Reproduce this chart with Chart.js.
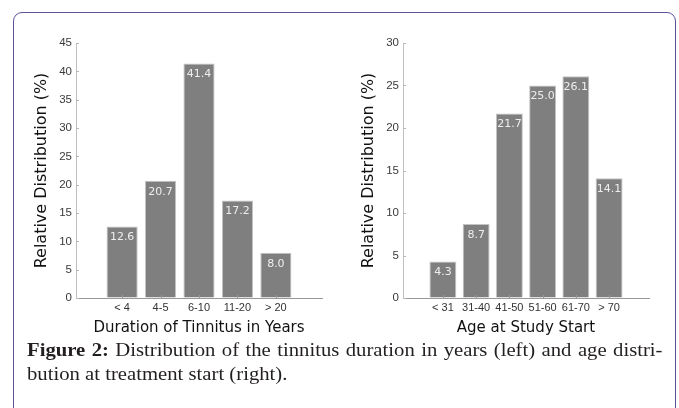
<!DOCTYPE html>
<html>
<head>
<meta charset="utf-8">
<script src="https://cdn.jsdelivr.net/npm/chart.js@4/dist/chart.umd.min.js"></script>
<style>
body{margin:0;background:#fff;width:679px;height:408px;overflow:hidden;position:relative;font-family:"DejaVu Sans",sans-serif}
#frame{position:absolute;left:13px;top:12px;width:661px;height:420px;border:1.5px solid #5a5599;border-radius:9px}
canvas{position:absolute}
#c1{left:18px;top:28px}
#c2{left:345px;top:28px}
.cap{position:absolute;left:27px;font:18px "Liberation Serif","Times New Roman",serif;color:#231f20;line-height:24px;white-space:nowrap;transform:scaleX(1.15);transform-origin:0 0}
</style>
</head>
<body>
<div id="frame"></div>
<canvas id="c1" width="318" height="312"></canvas>
<canvas id="c2" width="318" height="312"></canvas>
<div class="cap" id="line1" style="top:338px"><b>Figure 2:</b> Distribution of the tinnitus duration in years (left) and age distri-</div>
<div class="cap" id="line2" style="top:362px">bution at treatment start (right).</div>
<script>
const durationLabels = ["< 4", "4-5", "6-10", "11-20", "> 20"]
const durationValues = [12.6, 20.7, 41.4, 17.2, 8.0]
const durationTicks = [0, 5, 10, 15, 20, 25, 30, 35, 40, 45]

const ageLabels = ["< 31", "31-40", "41-50", "51-60", "61-70", "> 70"]
const ageValues = [4.3, 8.7, 21.7, 25.0, 26.1, 14.1]
const ageTicks = [0, 5, 10, 15, 20, 25, 30]

// numbers inside the bars, plus the short inward tick marks
const valueLabels = {
id:"valueLabels",
afterDatasetsDraw(chart){
const ctx = chart.ctx
const meta = chart.getDatasetMeta(0)
ctx.save()
ctx.font = "11px 'DejaVu Sans'"
ctx.fillStyle = "#eeeeee"
ctx.textAlign = "center"
ctx.textBaseline = "middle"
meta.data.forEach((bar,i)=>{
const v = chart.data.datasets[0].data[i].y
ctx.fillText(v.toFixed(1), bar.x, bar.y + 11)
})
const x = chart.scales.x, y = chart.scales.y
ctx.lineWidth = 1
ctx.strokeStyle = "#b8b8b8"
y.ticks.forEach(t=>{
const py = Math.round(y.getPixelForValue(t.value)) + 0.5
ctx.beginPath(); ctx.moveTo(y.right, py); ctx.lineTo(y.right + 3, py); ctx.stroke()
})
ctx.strokeStyle = "#999"
x.ticks.forEach(t=>{
const px = Math.round(x.getPixelForValue(t.value)) + 0.5
ctx.beginPath(); ctx.moveTo(px, x.top); ctx.lineTo(px, x.top - 3); ctx.stroke()
})
ctx.restore()
}
}

function makeChart(id, labels, values, ticks, xTitle){
const ctx = document.getElementById(id).getContext("2d")
return new Chart(ctx,{
type:"bar",
data:{
datasets:[{
data: values.map((v,i)=>({x:i, y:v})),
backgroundColor:"#7f7f7f",
borderColor:"#c4c4c4",
borderWidth:1,
categoryPercentage:0.81,
barPercentage:1
}]
},
options:{
responsive:false,
animation:false,
layout:{padding:{left:14.4, right:14, top:15, bottom:3}},
plugins:{legend:{display:false}, tooltip:{enabled:false}},
scales:{
x:{
type:"linear",
offset:false,
bounds:"data",
min:-1.2,
max:labels.length - 1 + 1.2,
afterBuildTicks:s=>{ s.ticks = labels.map((l,i)=>({value:i})) },
afterFit:s=>{ s.height = 39 },
grid:{display:true, offset:false, drawOnChartArea:false, tickLength:3, color:"rgba(0,0,0,0)"},
border:{display:true, color:"#999"},
ticks:{
autoSkip:false, maxRotation:0, padding:0.5,
color:"#333", font:{family:"Liberation Sans", size:11},
callback:v=>labels[v]
},
title:{display:true, text:xTitle, color:"#111", padding:0,
font:{family:"DejaVu Sans", size:15}}
},
y:{
min:0,
max:ticks[ticks.length-1],
afterBuildTicks:s=>{ s.ticks = ticks.map(t=>({value:t})) },
afterFit:s=>{ s.width = 43.6 },
grid:{display:true, drawOnChartArea:false, tickLength:3, color:"rgba(0,0,0,0)"},
border:{display:true, color:"#c0c0c0"},
ticks:{padding:1, color:"#3a3a3a", font:{family:"Liberation Sans", size:11.5}},
title:{display:true, text:"Relative Distribution (%)", color:"#111", padding:0,
font:{family:"DejaVu Sans", size:16}}
}
}
},
plugins:[valueLabels]
})
}

makeChart("c1", durationLabels, durationValues, durationTicks, "Duration of Tinnitus in Years")
makeChart("c2", ageLabels, ageValues, ageTicks, "Age at Study Start")

// stretch first caption line to the justified width (before the 1.15 stretch)
const l1 = document.getElementById("line1")
const target = 636 / 1.15
const spaces = (l1.textContent.match(/ /g) || []).length
l1.style.wordSpacing = ((target - l1.offsetWidth) / spaces) + "px"
</script>
</body>
</html>
